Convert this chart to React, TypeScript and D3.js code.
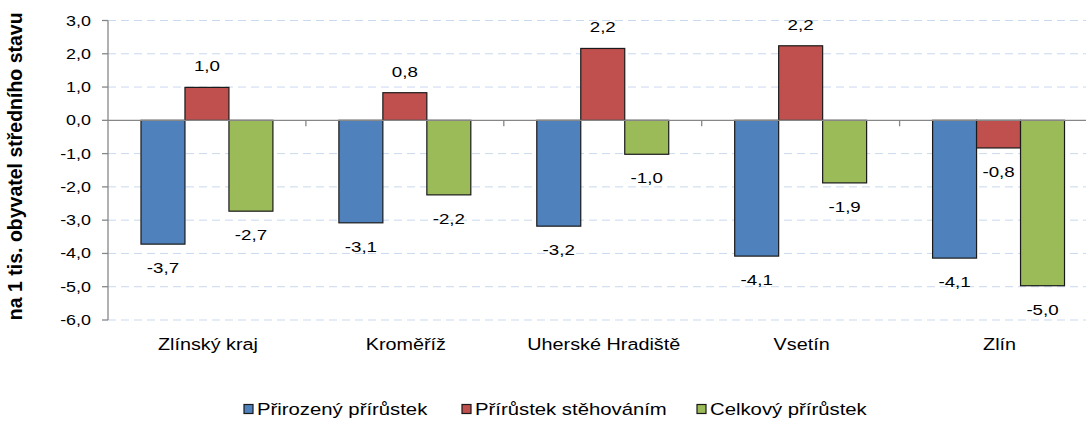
import React from "react";
import * as d3 from "d3";

const categories = ["Zlínský kraj", "Kroměříž", "Uherské Hradiště", "Vsetín", "Zlín"];
const seriesNames = ["Přirozený přírůstek", "Přírůstek stěhováním", "Celkový přírůstek"];
const prirozeny = [-3.72, -3.08, -3.18, -4.08, -4.14];
const stehovanim = [0.99, 0.83, 2.16, 2.24, -0.83];
const celkovy = [-2.73, -2.24, -1.02, -1.88, -4.97];
const yTicks = [-6, -5, -4, -3, -2, -1, 0, 1, 2, 3];

const colors = ["#4f81bd", "#c0504d", "#9bbb59"];
const font = "'Liberation Sans', Arial, sans-serif";

const fmt = (v: number) => v.toFixed(1).replace(".", ",");

// text stretched sideways a bit, the source image renders glyphs wide
const SText: React.FC<{
  x: number;
  y: number;
  size: number;
  sx?: number;
  anchor?: "start" | "middle" | "end";
  children: React.ReactNode;
}> = ({ x, y, size, sx = 1.2, anchor = "middle", children }) => (
  <text
    transform={`translate(${x},${y}) scale(${sx},1)`}
    textAnchor={anchor}
    fontSize={size}
    fontFamily={font}
    fill="#000"
  >
    {children}
  </text>
);

const App: React.FC = () => {
  const width = 1086;
  const height = 421;
  const margin = { top: 20.5, right: -11.5, bottom: 101, left: 108 };

  const y = d3
    .scaleLinear()
    .domain([-6, 3])
    .range([height - margin.bottom, margin.top]);

  const x0 = d3
    .scaleBand<string>()
    .domain(categories)
    .range([margin.left, width - margin.right])
    .paddingInner(0)
    .paddingOuter(0);

  const x1 = d3
    .scaleBand<number>()
    .domain([0, 1, 2])
    .range([0, x0.bandwidth()])
    .paddingInner(0)
    .paddingOuter(0.75);

  const series = [prirozeny, stehovanim, celkovy];
  const y0 = y(0);

  // legend layout
  const legendX = [244, 462, 697];
  const legendY = 409;

  return (
    <svg width={width} height={height} style={{ display: "block", background: "#fff" }}>
      <style>{"body{margin:0}"}</style>

      {/* gridlines */}
      {yTicks
        .filter((t) => t !== 0)
        .map((t) => (
          <line
            key={"g" + t}
            x1={margin.left}
            x2={width}
            y1={y(t)}
            y2={y(t)}
            stroke="#c9d9ee"
            strokeWidth={1}
            strokeDasharray="8,5"
          />
        ))}

      {/* bars */}
      {series.map((vals, si) =>
        categories.map((c, ci) => {
          const v = vals[ci];
          const bx = (x0(c) as number) + (x1(si) as number);
          return (
            <rect
              key={`b${si}-${ci}`}
              x={bx}
              y={Math.min(y(v), y0)}
              width={x1.bandwidth()}
              height={Math.abs(y(v) - y0)}
              fill={colors[si]}
              stroke="#1a1a1a"
              strokeWidth={1.2}
            />
          );
        })
      )}

      {/* zero line and category ticks */}
      <line x1={margin.left} x2={width} y1={y0} y2={y0} stroke="#878787" strokeWidth={1.3} />
      {categories.map((c, i) => (
        <line
          key={"ct" + i}
          x1={(x0(c) as number) + x0.bandwidth()}
          x2={(x0(c) as number) + x0.bandwidth()}
          y1={y0}
          y2={y0 + 6}
          stroke="#878787"
          strokeWidth={1.3}
        />
      ))}

      {/* y axis */}
      <line
        x1={margin.left}
        x2={margin.left}
        y1={y(3)}
        y2={y(-6)}
        stroke="#878787"
        strokeWidth={1.3}
      />
      {yTicks.map((t) => (
        <g key={"t" + t}>
          <line
            x1={margin.left - 6}
            x2={margin.left}
            y1={y(t)}
            y2={y(t)}
            stroke="#878787"
            strokeWidth={1.3}
          />
          <SText x={91} y={y(t) + 5} size={14} sx={1.28} anchor="end">
            {fmt(t)}
          </SText>
        </g>
      ))}

      {/* data labels */}
      {series.map((vals, si) =>
        categories.map((c, ci) => {
          const v = vals[ci];
          const cx = (x0(c) as number) + (x1(si) as number) + x1.bandwidth() / 2;
          const ly = v >= 0 ? y(v) - 16 : y(v) + 29;
          return (
            <SText key={`l${si}-${ci}`} x={cx} y={ly} size={15} sx={1.25}>
              {fmt(v)}
            </SText>
          );
        })
      )}

      {/* category labels */}
      {categories.map((c) => (
        <SText key={"c" + c} x={(x0(c) as number) + x0.bandwidth() / 2 + 1} y={350} size={16.5} sx={1.2}>
          {c}
        </SText>
      ))}

      {/* y axis title */}
      <text
        transform={`translate(22,${(y(3) + y(-6)) / 2 - 4}) rotate(-90)`}
        textAnchor="middle"
        fontSize={19.5}
        fontWeight="bold"
        fontFamily={font}
        fill="#000"
      >
        na 1 tis. obyvatel středního stavu
      </text>

      {/* legend */}
      {seriesNames.map((n, i) => (
        <g key={"lg" + i}>
          <rect
            x={legendX[i]}
            y={legendY - 4.5}
            width={9}
            height={9}
            fill={colors[i]}
            stroke="#1a1a1a"
            strokeWidth={1.2}
          />
          <SText x={legendX[i] + 13} y={legendY + 6} size={16} sx={1.27} anchor="start">
            {n}
          </SText>
        </g>
      ))}
    </svg>
  );
};

export default App;
